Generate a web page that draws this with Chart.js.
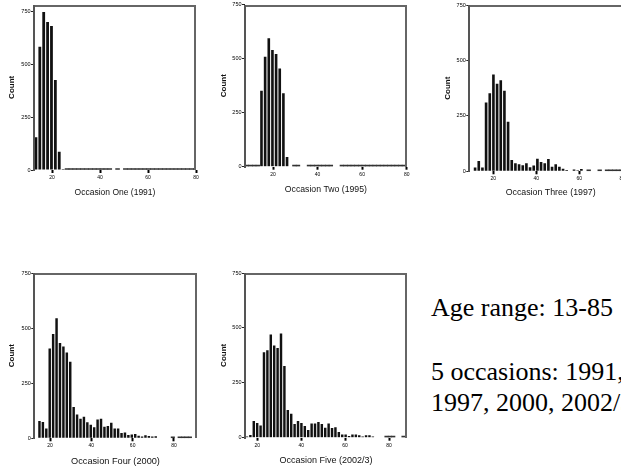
<!DOCTYPE html>
<html>
<head>
<meta charset="utf-8">
<script src="https://cdn.jsdelivr.net/npm/chart.js@4.4.1/dist/chart.umd.min.js"></script>
<style>
  html, body { margin: 0; padding: 0; background: #fff; overflow: hidden; }
  #page { position: relative; width: 621px; height: 467px; overflow: hidden; }
  #page canvas { position: absolute; }
  .note { position: absolute; left: 431px; font-family: "Liberation Serif", "Times New Roman", serif;
          font-size: 26px; line-height: 31px; color: #000; white-space: nowrap; }
</style>
</head>
<body>
<div id="page">
  <div class="note" style="top:292px">Age range: 13-85</div>
  <div class="note" style="top:356px">5 occasions: 1991, 1995,<br>1997, 2000, 2002/3</div>
</div>
<script>
// tick values shared by all five histograms
var yTicks = [0, 250, 500, 750];
var xTicks = [20, 40, 60, 80];

var titles = ['Occasion One (1991)', 'Occasion Two (1995)', 'Occasion Three (1997)',
              'Occasion Four (2000)', 'Occasion Five (2002/3)'];

// centre of the first age bin and bin width (years) of each histogram
var binStart = [13.3, 8.24, 11.5, 14.9, 15.3];
var binWidth = [1.62, 1.64, 1.705, 1.655, 1.55];

// counts per age bin
var counts1991 = [154, 582, 745, 698, 679, 425, 86, 5,
  2, 2, 2, 2, 2, 2, 2, 2, 2, 2, 2, 2, 0, 2, 0,
  2, 2, 2, 2, 2, 2, 2, 2, 2, 2, 2, 2, 2, 2, 2, 2, 2, 2, 2];
var counts1995 = [1, 1, 1, 1, 352, 509, 595, 540, 522, 455, 340, 45,
  0, 1, 1, 0, 0, 1, 1, 1, 1, 1, 1, 1, 0, 0,
  1, 1, 1, 1, 1, 1, 1, 1, 1, 1, 1, 1, 1, 1, 1, 1, 1, 1];
var counts1997 = [17, 47, 17, 310, 352, 437, 395, 411, 363, 223,
  51, 36, 32, 27, 36, 18, 26, 57, 42, 36, 56, 21, 32, 21, 12, 6,
  0, 8, 4, 10, 0, 3, 0, 0, 2, 0, 1, 1, 1, 1, 1, 1, 1];
var counts2000 = [79, 74, 45, 408, 473, 545, 432, 417, 389, 347,
  142, 108, 89, 98, 73, 61, 50, 85, 89, 52, 56, 70, 45, 45, 24,
  26, 15, 17, 20, 12, 8, 14, 11, 8, 9, 0, 0, 0, 0, 3, 0, 1, 1, 1, 1];
var counts2002 = [5, 12, 76, 67, 56, 389, 398, 470, 420, 409, 474, 326,
  126, 109, 62, 76, 67, 53, 35, 65, 65, 71, 62, 45, 65, 44, 48, 26,
  15, 15, 8, 15, 15, 11, 6, 11, 11, 6, 0, 0, 0, 3, 2, 2, 0, 0, 2];

var allCounts = [counts1991, counts1995, counts1997, counts2000, counts2002];

// where each little chart sits on the page
var layouts = [
  {left: 0,   top: 0,   w: 205, h: 205, yw: 34,   pt: 4.7, pr: 9,   xh: 35,   xmin: 12.5, xmax: 80,   ymax: 780, countPad: 6.9, titlePad: 6.9, titleSize: 8.5},
  {left: 210, top: 0,   w: 205, h: 200, yw: 35,   pt: 4.7, pr: 8.3, xh: 33.3, xmin: 7.4,  xmax: 80,   ymax: 750, countPad: 8.5, titlePad: 5.5, titleSize: 8.7},
  {left: 435, top: 0,   w: 205, h: 205, yw: 34.3, pt: 5,   pr: 8,   xh: 33.7, xmin: 8.8,  xmax: 84.5, ymax: 750, countPad: 7.9, titlePad: 7.0, titleSize: 8.8},
  {left: 0,   top: 265, w: 205, h: 202, yw: 34.3, pt: 8,   pr: 8.3, xh: 28.7, xmin: 12.4, xmax: 91,   ymax: 750, countPad: 7.2, titlePad: 0.5, titleSize: 9.2},
  {left: 210, top: 265, w: 205, h: 202, yw: 35,   pt: 8,   pr: 8,   xh: 29.3, xmin: 14.4, xmax: 88.2, ymax: 750, countPad: 8.5, titlePad: 0.9, titleSize: 9.0}
];

// grey frame round the plot (top, right and the left axis line)
var framePlugin = {
  id: 'spssFrame',
  afterDraw: function (chart) {
    var a = chart.chartArea, ctx = chart.ctx;
    var l = Math.round(a.left), t = Math.round(a.top), r = Math.round(a.right), b = Math.round(a.bottom);
    ctx.save();
    ctx.fillStyle = '#666';
    ctx.fillRect(l, t, r - l, 2);
    ctx.fillRect(r - 2, t, 2, b - t);
    ctx.fillStyle = '#555';
    ctx.fillRect(l - 1, t, 2, b - t + 1);
    ctx.restore();
  }
};

function makeHist(i) {
  var L = layouts[i];
  var canvas = document.createElement('canvas');
  canvas.width = L.w;
  canvas.height = L.h;
  canvas.style.left = L.left + 'px';
  canvas.style.top = L.top + 'px';
  document.getElementById('page').appendChild(canvas);

  var big = [], tiny = [];
  allCounts[i].forEach(function (c, k) {
    if (!c) return;
    var pt = {x: binStart[i] + binWidth[i] * k, y: c};
    if (c > 3) big.push(pt); else tiny.push(pt);
  });

  return new Chart(canvas.getContext('2d'), {
    type: 'bar',
    data: {
      datasets: [{
        data: big,
        backgroundColor: '#111',
        barPercentage: 0.72,
        categoryPercentage: 1,
        minBarLength: 1,
        grouped: false
      }, {
        data: tiny,
        backgroundColor: '#333',
        barPercentage: 1,
        categoryPercentage: 1,
        minBarLength: 1.5,
        grouped: false
      }]
    },
    options: {
      responsive: false,
      animation: false,
      layout: {padding: {left: 0, top: L.pt, right: L.pr, bottom: 0}},
      plugins: {legend: {display: false}, tooltip: {enabled: false}},
      scales: {
        x: {
          type: 'linear',
          offset: false,
          min: L.xmin,
          max: L.xmax,
          afterBuildTicks: function (s) { s.ticks = xTicks.map(function (v) { return {value: v}; }); },
          afterFit: function (s) { s.height = L.xh; },
          ticks: {autoSkip: false, maxRotation: 0, padding: 1.5, color: '#000',
                  font: {family: 'Liberation Sans', size: 5}},
          grid: {display: true, offset: false, drawOnChartArea: false, drawTicks: true,
                 tickLength: 3, tickWidth: 2, tickColor: '#000'},
          border: {display: false},
          title: {display: true, text: titles[i], color: '#111',
                  font: {family: 'Liberation Sans', size: L.titleSize},
                  padding: {top: 0, bottom: L.titlePad}}
        },
        y: {
          min: 0,
          max: L.ymax,
          afterBuildTicks: function (s) { s.ticks = yTicks.map(function (v) { return {value: v}; }); },
          afterFit: function (s) { s.width = L.yw; },
          ticks: {padding: 0.5, color: '#000', font: {family: 'Liberation Sans', size: 5.5}},
          grid: {display: true, drawOnChartArea: false, drawTicks: true,
                 tickLength: 3, tickWidth: 1, tickColor: '#222'},
          border: {display: false},
          title: {display: true, text: 'Count', color: '#111',
                  font: {family: 'Liberation Sans', size: 8, weight: 'bold'},
                  padding: {top: L.countPad, bottom: 0}}
        }
      }
    },
    plugins: [framePlugin]
  });
}

for (var i = 0; i < layouts.length; i++) {
  makeHist(i);
}
</script>
</body>
</html>
